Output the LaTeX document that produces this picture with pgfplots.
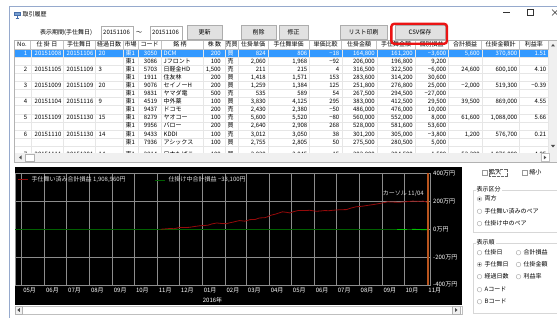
\documentclass[border=0pt]{standalone}
\usepackage{fontspec}
\setmainfont{Noto Sans CJK JP}
\usepackage{pgfplots}
\pgfplotsset{compat=1.18}
\definecolor{selblue}{RGB}{51,153,255}
\definecolor{gridc}{RGB}{140,140,140}
\definecolor{plred}{RGB}{150,10,10}
\definecolor{dgreen}{RGB}{0,95,0}
\definecolor{bgreen}{RGB}{0,190,0}
\definecolor{cursorc}{RGB}{185,85,30}
\definecolor{btnfill}{RGB}{225,225,225}
\definecolor{btnline}{RGB}{173,173,173}
\definecolor{tline}{RGB}{230,230,230}
\definecolor{hline}{RGB}{195,195,195}
\definecolor{winb}{RGB}{150,170,205}
\definecolor{grp}{RGB}{215,215,215}
\definecolor{legtext}{RGB}{225,225,225}
\definecolor{sbar}{RGB}{240,240,240}
\definecolor{redbox}{RGB}{235,20,20}
\definecolor{icon1}{RGB}{70,110,170}
\definecolor{icon2}{RGB}{120,160,210}

\newcommand\RowA[9]{%
 \node[anchor=east] at (27.5,#1) {#2};
 \node[anchor=west] at (34.5,#1) {#3};
 \node[anchor=west] at (66.5,#1) {#4};
 \node[anchor=west] at (98.5,#1) {#5};
 \node[anchor=west] at (125.5,#1) {東1};
 \node[anchor=east] at (157.5,#1) {#6};
 \node[anchor=west] at (163.5,#1) {#7};
 \node[anchor=east] at (221,#1) {#8};
 \node[anchor=west] at (227.5,#1) {#9};}
\newcommand\RowB[7]{%
 \node[anchor=east] at (266,#1) {#2};
 \node[anchor=east] at (307.5,#1) {#3};
 \node[anchor=east] at (339.5,#1) {#4};
 \node[anchor=east] at (375,#1) {#5};
 \node[anchor=east] at (413,#1) {#6};
 \node[anchor=east] at (446.5,#1) {#7};}
\newcommand\RowC[4]{%
 \node[anchor=east] at (480,#1) {#2};
 \node[anchor=east] at (517.5,#1) {#3};
 \node[anchor=east] at (546.5,#1) {#4};}
\newcommand\Btn[5]{%
 \draw[btnline, fill=btnfill] (#1,#3) rectangle (#2,#4);
 \node at ({(#1+#2)/2},{(#3+#4)/2}) {#5};}
\newcommand\Radio[4]{%
 \draw[gray!70, fill=white] (#1,#2) circle (2.3);
 \ifnum#4=1 \fill[black!80] (#1,#2) circle (1.1);\fi
 \node[anchor=west] at (#1+5,#2) {#3};}
\newcommand\Check[3]{%
 \draw[gray!80, fill=white] (#1-2.5,#2-2.5) rectangle (#1+2.5,#2+2.5);
 \node[anchor=west] at (#1+5,#2) {#3};}

\begin{document}
\begin{tikzpicture}[x=1pt,y=1pt,
  every node/.style={font=\fontsize{6}{7}\selectfont, inner sep=0pt, text height=4.6pt, text depth=0.6pt}]
\useasboundingbox (0,0) rectangle (557,318);
\fill[white] (0,0) rectangle (557,318);
\begin{scope}[shift={(0,318)}, yscale=-1]
 % window frame
 \draw[winb, line width=0.8pt] (9,320) -- (9,6) -- (560,6);
 % title bar
 \fill[icon1] (14,12) rectangle (20.5,16.5);
 \fill[icon2] (15,13) rectangle (19.5,15.5);
 \draw[icon1] (17.2,16.5) -- (17.2,18) (15.5,18) -- (19,18);
 \node[anchor=west] at (22.5,15) {取引履歴};
 \draw[black!80, line width=0.5pt] (503,12.5) -- (510,12.5);
 \draw[black!80, line width=0.5pt] (527,9.5) rectangle (533,15.5);
 \draw[black!80, line width=0.5pt] (552,9.5) -- (558,15.5) (552,15.5) -- (558,9.5);
 % top controls
 \node[anchor=west] at (40,33) {表示期間(手仕舞日)};
 \draw[btnline, fill=white] (101,26) rectangle (133,40);
 \node[anchor=west] at (103,33) {20151106};
 \node at (139,33) {〜};
 \draw[btnline, fill=white] (150,26) rectangle (182,40);
 \node[anchor=west] at (152,33) {20151106};
 \Btn{187}{222}{25.5}{39.5}{更新}
 \Btn{241}{276}{25.5}{39.5}{削除}
 \Btn{279}{308}{25.5}{39.5}{修正}
 \Btn{340}{387}{25.5}{39.5}{リスト印刷}
 \Btn{395}{445}{25.5}{39.5}{CSV保存}
 % table
 \fill[white] (15,41) rectangle (549,153);
 \fill[selblue] (15,49) rectangle (548.3,57.1);
 \foreach \i in {1,...,13} { \draw[tline, line width=0.4pt] (15,{49+8.1*\i}) -- (548.3,{49+8.1*\i}); }
 \foreach \xx in {30.7,63.3,95,123.3,138,161,203,225,238,268,309.3,341.7,376.7,415,448.3,481.7,519.3,548.3} {
   \draw[tline, line width=0.4pt] (\xx,49) -- (\xx,153);
   \draw[hline, line width=0.5pt] (\xx,41) -- (\xx,49); }
 \draw[hline, line width=0.5pt] (15,49) -- (549,49);
 % header
 \node[anchor=west] at (17,45) {No.};
 \node at (47,45) {仕 掛 日};
 \node at (79,45) {手仕舞日};
 \node at (109,45) {経過日数};
 \node at (130.6,45) {市場};
 \node at (149.5,45) {コード};
 \node at (180,45) {銘 柄};
 \node at (214.5,45) {株 数};
 \node at (231.5,45) {売買};
 \node at (253,45) {仕掛単価};
 \node at (288.7,45) {手仕舞単価};
 \node at (325.5,45) {単価比較};
 \node at (359,45) {仕掛金額};
 \node at (396,45) {手仕舞金額};
 \node at (431.7,45) {個別損益};
 \node at (465,45) {合計損益};
 \node at (500.5,45) {仕掛金額計};
 \node at (533.8,45) {利益率};
 % rows
 \begin{scope}[every node/.append style={text=white}]
 \RowA{53.05}{1}{20151008}{20151106}{20}{3050}{DCM}{200}{買}
 \RowB{53.05}{824}{806}{−18}{164,800}{161,200}{−3,600}
 \RowC{53.05}{5,600}{370,800}{1.51}
 \end{scope}
 \RowA{61.15}{}{}{}{}{3086}{Jフロント}{100}{売}
 \RowB{61.15}{2,060}{1,968}{−92}{206,000}{196,800}{9,200}
 \RowA{69.25}{2}{20151105}{20151109}{3}{5703}{日軽金HD}{1,500}{売}
 \RowB{69.25}{211}{215}{4}{316,500}{322,500}{−6,000}
 \RowC{69.25}{24,600}{600,100}{4.10}
 \RowA{77.35}{}{}{}{}{1911}{住友林}{200}{買}
 \RowB{77.35}{1,418}{1,571}{153}{283,600}{314,200}{30,600}
 \RowA{85.45}{3}{20151009}{20151109}{20}{9076}{セイノーH}{200}{買}
 \RowB{85.45}{1,259}{1,384}{125}{251,800}{276,800}{25,000}
 \RowC{85.45}{−2,000}{519,300}{−0.39}
 \RowA{93.55}{}{}{}{}{9831}{ヤマダ電}{500}{売}
 \RowB{93.55}{535}{589}{54}{267,500}{294,500}{−27,000}
 \RowA{101.65}{4}{20151104}{20151116}{9}{4519}{中外薬}{100}{買}
 \RowB{101.65}{3,830}{4,125}{295}{383,000}{412,500}{29,500}
 \RowC{101.65}{39,500}{869,000}{4.55}
 \RowA{109.75}{}{}{}{}{9437}{ドコモ}{200}{売}
 \RowB{109.75}{2,430}{2,380}{−50}{486,000}{476,000}{10,000}
 \RowA{117.85}{5}{20151109}{20151130}{15}{8279}{ヤオコー}{100}{売}
 \RowB{117.85}{5,600}{5,520}{−80}{560,000}{552,000}{8,000}
 \RowC{117.85}{61,600}{1,088,000}{5.66}
 \RowA{125.95}{}{}{}{}{9956}{バロー}{200}{買}
 \RowB{125.95}{2,640}{2,908}{268}{528,000}{581,600}{53,600}
 \RowA{134.05}{6}{20151110}{20151130}{14}{9433}{KDDI}{100}{売}
 \RowB{134.05}{3,012}{3,050}{38}{301,200}{305,000}{−3,800}
 \RowC{134.05}{1,200}{576,700}{0.21}
 \RowA{142.15}{}{}{}{}{7936}{アシックス}{100}{買}
 \RowB{142.15}{2,755}{2,805}{50}{275,500}{280,500}{5,000}
 \begin{scope}
 \clip (15,146.3) rectangle (549,153);
 \RowA{154.2}{7}{20151111}{20151201}{14}{2914}{日本たばこ}{100}{買}
 \RowB{154.2}{3,030}{3,045}{15}{303,000}{304,500}{1,500}
 \RowC{154.2}{53,300}{1,076,000}{4.95}
 \end{scope}
 % scrollbars of the table
 \fill[sbar] (549,41) rectangle (557,153);
 \fill[black!70] (551,46.5) -- (555,46.5) -- (553,44) -- cycle;
 \fill[black!70] (551,145) -- (555,145) -- (553,147.5) -- cycle;
 \fill[sbar] (15,153) rectangle (557,162);
 \draw[gray!60, fill=white] (25,154) rectangle (34,161);
 \fill[black!70] (21.5,155.5) -- (21.5,159.5) -- (19,157.5) -- cycle;
 \draw[gray!50, fill=white] (541,153.5) rectangle (549,161.5);
 \fill[black!70] (543.8,155.5) -- (543.8,159.5) -- (546.3,157.5) -- cycle;
 \draw[gray!60, line width=0.5pt] (14.5,40.5) -- (14.5,162.5) -- (557.5,162.5);
 \draw[gray!60, line width=0.5pt] (14.5,40.5) -- (557.5,40.5);
 % red highlight
 \draw[redbox, line width=2.4pt, rounded corners=3pt] (391.3,23.8) rectangle (447,43.8);
 % chart background
 \fill[black] (15,167.5) rectangle (462,305);
 \fill[white] (15,306) rectangle (462,314);
 \draw[gray!50, line width=0.4pt] (15,306) rectangle (462,314);
 \draw[gray!60, fill=sbar] (15,306) rectangle (22,314);
 \fill[black!70] (19.8,308) -- (19.8,312) -- (17.3,310) -- cycle;
 \draw[gray!60, fill=sbar] (452,306) rectangle (460,314);
 \fill[black!70] (455,308) -- (455,312) -- (457.5,310) -- cycle;
 % right panel
 \Check{484.2}{172.5}{拡大}
 \draw[black!60, densely dotted, line width=0.3pt] (488.8,168.8) rectangle (507.5,176.5);
 \Check{524.2}{172.5}{縮小}
 \draw[grp, line width=0.5pt] (473,190) rectangle (560,232.5);
 \node[anchor=west, fill=white, inner xsep=1pt] at (475.5,189.5) {表示区分};
 \Radio{479.5}{199}{両方}{1}
 \Radio{479.5}{211.3}{手仕舞い済みのペア}{0}
 \Radio{479.5}{223.6}{仕掛け中のペア}{0}
 \draw[grp, line width=0.5pt] (473,243) rectangle (560,313.5);
 \node[anchor=west, fill=white, inner xsep=1pt] at (475.5,242.5) {表示順};
 \Radio{479.5}{252.7}{仕掛日}{0}
 \Radio{518.5}{252.7}{合計損益}{0}
 \Radio{479.5}{264.5}{手仕舞日}{1}
 \Radio{518.5}{264.5}{仕掛金額}{0}
 \Radio{479.5}{276.7}{経過日数}{0}
 \Radio{518.5}{276.7}{利益率}{0}
 \Radio{479.5}{289.7}{Aコード}{0}
 \Radio{479.5}{301.7}{Bコード}{0}
\end{scope}

\begin{axis}[
  at={(15pt,33pt)}, anchor=south west,
  scale only axis, width=415.5pt, height=111.5pt,
  xmin=-9, xmax=555, ymin=-400, ymax=400,
  axis line style={draw=gridc, line width=0.6pt},
  xtick={0,31,61,92,123,153,184,214,245,276,305,336,366,397,427,458,489,519,550},
  xticklabels={05月,06月,07月,08月,09月,10月,11月,12月,01月,02月,03月,04月,05月,06月,07月,08月,09月,10月,11月},
  ytick={-400,-200,0,200,400},
  yticklabels={-400万円,-200万円,0万円,200万円,400万円},
  yticklabel pos=right,
  xticklabel style={anchor=north, xshift=8pt, yshift=-3pt, text=white},
  yticklabel style={anchor=west, xshift=2.5pt, text=white},
  major tick length=0pt,
  xmajorgrids, ymajorgrids,
  grid style={draw=gridc, line width=0.6pt},
  tick style={draw=none},
]
\addplot[dgreen, line width=0.9pt] coordinates {(-9,0) (551,0)};
\addplot[bgreen, line width=0.9pt] coordinates {(510,2) (523,2)};
\addplot[bgreen, line width=0.9pt] coordinates {(530,-1) (541,-2) (551,-3.3)};
\addplot[plred, line width=0.8pt] coordinates {
(189,0) (196,3) (201,5) (207,4) (212,10) (215,13) (222,12) (228,14) (235,20) (242,25)
(248,27) (253,29) (258,38) (265,45) (272,41) (278,40) (283,47) (287,51) (292,58) (296,62)
(303,58) (307,64) (310,69) (317,70) (320,76) (323,81) (330,83) (334,90) (337,98) (341,104)
(345,109) (350,118) (354,125) (360,121) (364,117) (369,126) (375,134) (384,134) (391,136) (396,132)
(400,129) (406,131) (411,134) (417,133) (422,136) (432,140) (441,141) (447,152) (454,161) (462,165)
(472,173) (482,181) (491,190) (497,197) (503,195) (513,194) (521,197) (531,202) (538,200) (545,202)
(549,197) (551,190.9)};
\addplot[cursorc, line width=1.6pt] coordinates {(552,-400) (552,400)};
\end{axis}

\begin{scope}[shift={(0,318)}, yscale=-1]
 \draw[plred, line width=0.8pt] (18,179.5) -- (28,179.5);
 \node[anchor=west, text=legtext] at (31.5,179.5) {手仕舞い済み合計損益 1,908,960円};
 \draw[dgreen, line width=0.9pt] (155,180) -- (165,180);
 \node[anchor=west, text=legtext] at (168.5,180) {仕掛け中合計損益 −33,100円};
 \node[anchor=east, text=legtext] at (424,193.5) {カーソル 11/04};
 \node[text=white] at (212.5,300.5) {2016年};
\end{scope}
\end{tikzpicture}
\end{document}
